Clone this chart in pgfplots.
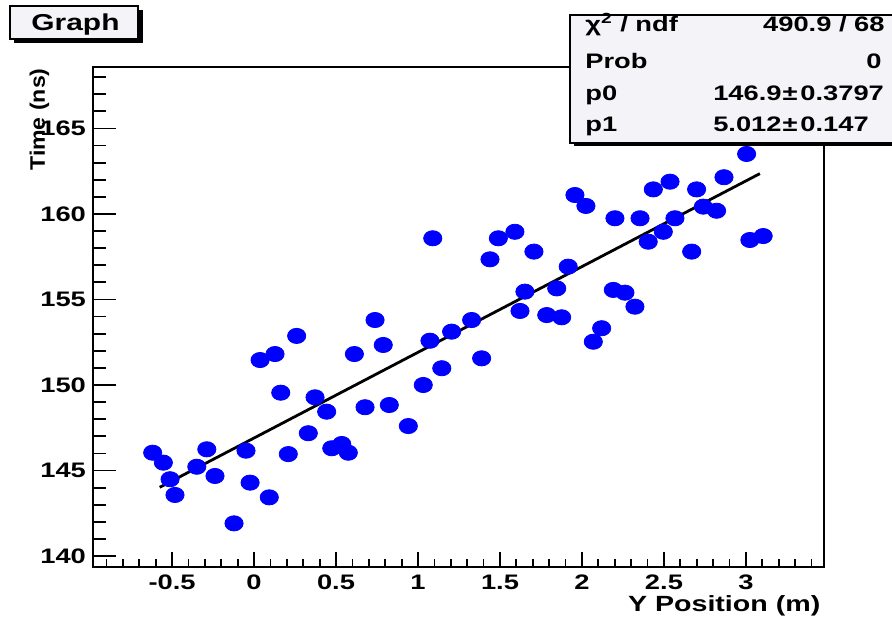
\documentclass[border=0pt]{standalone}
\usepackage{fontspec}
\setmainfont{Liberation Sans}[FakeStretch=1.3]
\newfontfamily\ytitlefont{Liberation Sans}[FakeStretch=1.1]
\usepackage{pgfplots}
\pgfplotsset{compat=1.18}
\definecolor{markblue}{RGB}{0,0,255}
\definecolor{panelfill}{RGB}{244,243,247}

\pgfplotstableread{
x y
-0.618 146.04
-0.553 145.46
-0.512 144.49
-0.482 143.57
-0.349 145.22
-0.288 146.24
-0.238 144.68
-0.122 141.91
-0.049 146.16
-0.024 144.29
0.037 151.46
0.093 143.43
0.128 151.81
0.163 149.55
0.209 145.96
0.260 152.87
0.331 147.18
0.372 149.28
0.443 148.44
0.474 146.30
0.535 146.55
0.575 146.04
0.612 151.81
0.677 148.70
0.738 153.80
0.788 152.34
0.825 148.83
0.941 147.60
1.032 150.00
1.073 152.59
1.090 158.58
1.145 150.98
1.205 153.12
1.327 153.80
1.388 151.56
1.439 157.35
1.490 158.58
1.591 158.96
1.622 154.33
1.652 155.46
1.707 157.80
1.785 154.09
1.846 155.65
1.876 153.96
1.916 156.92
1.957 161.11
2.024 160.47
2.069 152.53
2.120 153.32
2.191 155.56
2.201 159.75
2.262 155.40
2.323 154.58
2.354 159.75
2.404 158.38
2.435 161.44
2.496 158.96
2.537 161.89
2.567 159.75
2.669 157.80
2.699 161.44
2.740 160.43
2.821 160.19
2.866 162.15
3.004 163.51
3.024 158.48
3.105 158.71
}\measurements

% straight-line fit p0 + p1*x over the fitted range
\pgfplotstableread{
x y
-0.575 144.018
3.085 162.362
}\fitline

\begin{document}
\begin{tikzpicture}
% fixed page size; the statistics box runs off the right edge
\useasboundingbox (-46.5pt,-25.65pt) rectangle (399.5pt,283.35pt);

\pgfplotsset{
  commonaxis/.style={
    at={(0,0)}, anchor=south west,
    scale only axis, width=365.5pt, height=249.85pt,
    xmin=-0.982, xmax=3.476, ymin=139.374, ymax=168.596,
    tick pos=left, tick align=inside,
    tick style={black, line width=0.9pt},
  }
}

\begin{axis}[
  commonaxis,
  axis line style={black, line width=1pt},
  xtick={-0.5,0,0.5,1,1.5,2,2.5,3},
  xticklabels={-0.5,0,0.5,1,1.5,2,2.5,3},
  minor xtick={-0.9,-0.8,-0.7,-0.6,-0.4,-0.3,-0.2,-0.1,0.1,0.2,0.3,0.4,0.6,0.7,0.8,0.9,1.1,1.2,1.3,1.4,1.6,1.7,1.8,1.9,2.1,2.2,2.3,2.4,2.6,2.7,2.8,2.9,3.1,3.2,3.3,3.4},
  ytick=\empty,
  major tick length=7.5pt, minor tick length=4pt,
  xticklabel style={font=\bfseries\fontsize{10.5}{12}\selectfont, yshift=-0.6pt},
  xlabel={Y Position (m)},
  every axis x label/.style={at={(axis description cs:0.9955,-0.0901)}, anchor=base east,
    inner sep=0pt, font=\bfseries\fontsize{11}{13}\selectfont},
]
\addplot[only marks, mark=*, mark size=3.8pt, color=markblue,
  mark options={xscale=1.2, draw=markblue, fill=markblue}] table[x=x, y=y] {\measurements};
\addplot[black, line width=1.4pt, no marks] table[x=x, y=y] {\fitline};
\end{axis}

% y axis ticks and labels (longer ticks than the x axis)
\begin{axis}[
  commonaxis,
  axis line style={draw=none},
  xtick=\empty,
  ytick={140,145,150,155,160,165},
  yticklabels={140,145,150,155,160,165},
  minor ytick={141,142,143,144,146,147,148,149,151,152,153,154,156,157,158,159,161,162,163,164,166,167,168},
  major tick length=11.7pt, minor tick length=6.3pt,
  yticklabel style={font=\bfseries\fontsize{10.5}{12}\selectfont},
  ylabel={Time (ns)},
  every axis y label/.style={at={(axis description cs:-0.0657,0.998)}, rotate=90, anchor=base east,
    inner sep=0pt, font=\ytitlefont\bfseries\fontsize{10.5}{12}\selectfont},
]
\end{axis}

\begin{scope}[x=0.5pt, y=-0.5pt, shift={(-46.5pt,283.35pt)},
  every node/.style={inner sep=0pt, font=\bfseries\fontsize{10.5}{12}\selectfont}]
  % title box
  \fill[black] (14,10) rectangle (143,43);
  \filldraw[fill=panelfill, draw=black, line width=0.6pt] (10,6) rectangle (138,39);
  \node[anchor=base, font=\bfseries\fontsize{11.5}{13}\selectfont] at (75.5,30) {Graph};
  % fit statistics box
  \fill[black] (574,19) rectangle (900,146);
  \filldraw[fill=panelfill, draw=black, line width=0.6pt] (570,15) rectangle (900,143);
  \node[anchor=base west] at (585,31.5) {χ\textsuperscript{2} / ndf};
  \node[anchor=base east] at (885,31.5) {490.9 / 68};
  \node[anchor=base west] at (585,68) {Prob};
  \node[anchor=base east] at (882,68) {0};
  \node[anchor=base west] at (585,100) {p0};
  \node[anchor=base east] at (782,100) {146.9};
  \node[anchor=base] at (790,100) {±};
  \node[anchor=base west] at (800,100) {0.3797};
  \node[anchor=base west] at (585,131.5) {p1};
  \node[anchor=base east] at (782,131.5) {5.012};
  \node[anchor=base] at (790,131.5) {±};
  \node[anchor=base west] at (800,131.5) {0.147};
\end{scope}
\end{tikzpicture}
\end{document}
